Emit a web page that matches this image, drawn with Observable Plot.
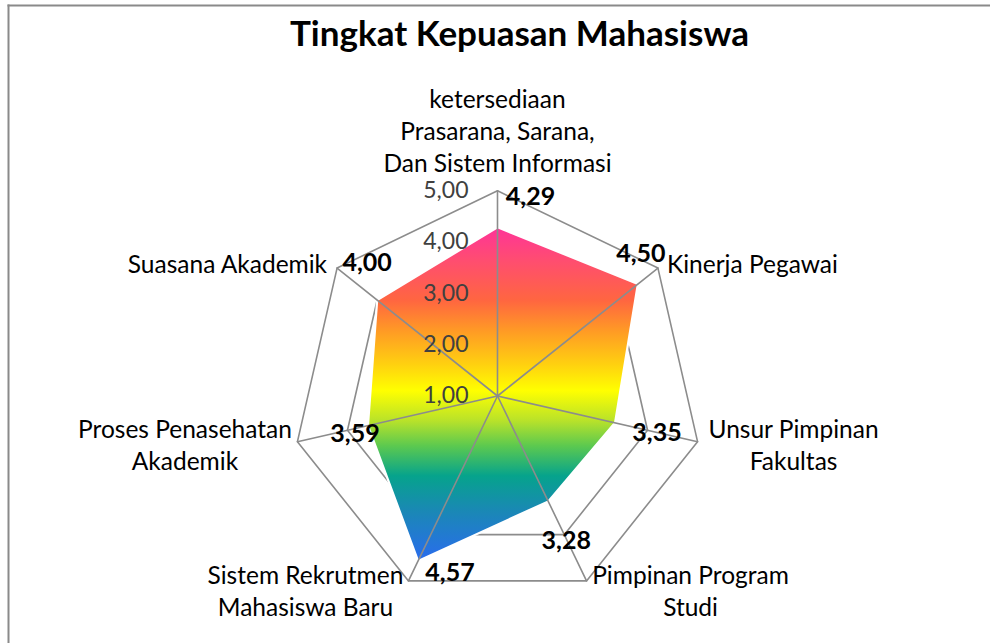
<!DOCTYPE html>
<html><head><meta charset="utf-8">
<script src="https://cdn.jsdelivr.net/npm/d3@7"></script>
<script src="https://cdn.jsdelivr.net/npm/@observablehq/plot@0.6"></script>
<style>
html,body{margin:0;padding:0;background:#fff;}
#chart{position:relative;width:990px;height:643px;overflow:hidden;}
#chart svg{display:block;}
</style></head><body><div id="chart"></div>
<script>
// ---- data ----
const title = "Tingkat Kepuasan Mahasiswa";
const categories = [
  "ketersediaan\nPrasarana, Sarana,\nDan Sistem Informasi",
  "Kinerja Pegawai",
  "Unsur Pimpinan\nFakultas",
  "Pimpinan Program\nStudi",
  "Sistem Rekrutmen\nMahasiswa Baru",
  "Proses Penasehatan\nAkademik",
  "Suasana Akademik"
];
const values = [4.29, 4.50, 3.35, 3.28, 4.57, 3.59, 4.00];
const valueLabels = ["4,29", "4,50", "3,35", "3,28", "4,57", "3,59", "4,00"];
const ringLevels = [1, 2, 3, 4, 5];
const tickLabels = ["1,00", "2,00", "3,00", "4,00", "5,00"];

// ---- layout / style ----
const W = 990, H = 643, cx = 497, cy = 395.5, unit = 51.3, axisMin = 1, axisMax = 5;
const FONT = "Lato, 'Open Sans', sans-serif";
const n = categories.length;
const polar = (v, i) => {
  const a = i * 2 * Math.PI / n, r = v - axisMin;
  return {x: r * Math.sin(a), y: r * Math.cos(a)};
};
// category label placement relative to outer vertex
const catLayout = [
  {anchor: "middle", dx: 0, dy: -61},
  {anchor: "start", dx: 9, dy: -5},
  {anchor: "middle", dx: 96, dy: 2.5},
  {anchor: "middle", dx: 104, dy: 9},
  {anchor: "middle", dx: -103, dy: 9},
  {anchor: "middle", dx: -112.5, dy: 2.5},
  {anchor: "end", dx: -10, dy: -5}
];
// value label offsets relative to data point
const valLayout = [
  {dx: 33, dy: -30}, {dx: 3, dy: -30}, {dx: 42, dy: 10}, {dx: 18, dy: 40},
  {dx: 32, dy: 12}, {dx: -13, dy: 8}, {dx: -10, dy: -37}
];

// ---- derived tables ----
const rings = ringLevels.flatMap(l => categories.map((c, i) => ({...polar(l, i), level: l})));
const spokes = categories.flatMap((c, i) => [{...polar(axisMin, i), i}, {...polar(axisMax, i), i}]);
const points = values.map((v, i) => ({...polar(v, i), v, label: valueLabels[i]}));
const outer = categories.map((c, i) => ({...polar(axisMax, i), c}));
const ticks = ringLevels.map((l, k) => ({...polar(l, 0), t: tickLabels[k]}));

const marks = [
  Plot.line(rings, {x: "x", y: "y", z: "level", curve: "linear-closed", stroke: "#8c8c8c", strokeWidth: 1.6}),
  Plot.line(points, {x: "x", y: "y", curve: "linear-closed", fill: "url(#rainbow)", stroke: "#ffffff", strokeWidth: 2.2, style: {filter: "drop-shadow(2px 2px 2px rgba(0,0,0,0.35))"}}),
  Plot.line(spokes, {x: "x", y: "y", z: "i", stroke: "#8c8c8c", strokeWidth: 1.6}),
  Plot.text(ticks, {x: "x", y: "y", text: "t", textAnchor: "end", dx: -29, dy: 0, fill: "#404040", fontSize: 23, fontFamily: FONT}),
  ...outer.map((d, i) => Plot.text([d], {x: "x", y: "y", text: "c", textAnchor: catLayout[i].anchor, lineAnchor: "middle", dx: catLayout[i].dx, dy: catLayout[i].dy, lineHeight: 1.31, fill: "#000", fontSize: 24.5, fontFamily: FONT})),
  ...points.map((d, i) => Plot.text([d], {x: "x", y: "y", text: "label", dx: valLayout[i].dx, dy: valLayout[i].dy, fill: "#000", fontWeight: "bold", fontSize: 25, fontFamily: FONT})),
  Plot.frame({anchor: "top", stroke: "#8a8a8a", strokeWidth: 2}),
  Plot.frame({anchor: "left", stroke: "#8a8a8a", strokeWidth: 2}),
  Plot.text([title], {frameAnchor: "top", lineAnchor: "middle", text: d => d, dx: 20, dy: 29, fontSize: 35, fontWeight: "bold", fill: "#000", fontFamily: FONT})
];

const svg = Plot.plot({
  width: W, height: H,
  marginTop: 5, marginLeft: 8, marginRight: 0, marginBottom: 0,
  x: {domain: [-(cx - 8) / unit, (W - cx) / unit], axis: null},
  y: {domain: [-(H - cy) / unit, (cy - 5) / unit], axis: null},
  style: {background: "#fff", overflow: "visible"},
  marks
});

const defs = d3.select(svg).insert("defs", ":first-child");
const g = defs.append("linearGradient").attr("id", "rainbow").attr("x1", 0).attr("y1", 0).attr("x2", 0).attr("y2", 1);
[[0, "#FF3399"], [0.1, "#FF4D70"], [0.22, "#FF6640"], [0.31, "#FF9A25"], [0.41, "#FFD010"], [0.49, "#FFFF00"],
 [0.58, "#B8E22A"], [0.655, "#5CC94F"], [0.745, "#06A38C"], [0.85, "#1A88B5"], [1, "#2A6CEE"]]
  .forEach(([o, c]) => g.append("stop").attr("offset", o).attr("stop-color", c));

document.getElementById("chart").appendChild(svg);
</script>
</body></html>
